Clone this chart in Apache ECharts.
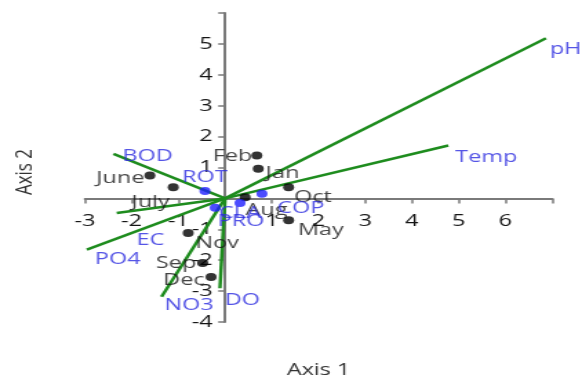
<!DOCTYPE html>
<html>
<head>
<meta charset="utf-8">
<script src="https://cdn.jsdelivr.net/npm/echarts@6/dist/echarts.min.js"></script>
<style>
html,body{margin:0;padding:0;background:#fff;overflow:hidden;width:582px;height:378px;}
#c{width:422px;height:378px;transform:scaleX(1.37915);transform-origin:0 0;}
</style>
</head>
<body>
<div id="c"></div>
<script>
// ---- data ----
const monthNames = ['Jan','Feb','May','June','July','Aug','Sep','Oct','Nov','Dec'];
const monthAxis1 = [0.71, 0.68, 1.36, -1.61, -1.11, 0.43, -0.48, 1.36, -0.79, -0.30];
const monthAxis2 = [0.96, 1.39, -0.71, 0.74, 0.36, 0.04, -2.09, 0.36, -1.12, -2.54];

const taxaNames = ['ROT','CLA','PRO','COP'];
const taxaAxis1 = [-0.43, 0.32, -0.21, 0.79];
const taxaAxis2 = [0.24, -0.15, -0.30, 0.15];

const envNames = ['pH','Temp','BOD','EC','PO4','NO3','DO'];
const envAxis1 = [6.87, 4.78, -2.39, -2.32, -2.96, -1.36, -0.11];
const envAxis2 = [5.18, 1.71, 1.44, -0.47, -1.66, -3.18, -2.91];

// ---- layout / style ----
const SX = 1.37915; // horizontal stretch of the picture
const labelPlace = { // [position, dx (screen px), dy]
  Jan:['right',-5,4], Feb:['left',8,1], Oct:['right',-7,10], Aug:['right',-12,13],
  May:['right',-3,10], June:['left',7,3], July:['left',9,15], Nov:['right',-5,10],
  Sep:['left',6,0], Dec:['left',6,3],
  ROT:['top',0,4], COP:['right',3,14], CLA:['bottom',0,-7], PRO:['right',-10,13],
  pH:['right',-3,11], Temp:['right',0,12], BOD:['right',2,2], EC:['right',13,27],
  PO4:['right',1,9], NO3:['right',-4,8], DO:['right',-2,12]
};

const FONT = '"Open Sans", "Noto Sans", sans-serif';
const GREEN = '#1e8c1e';
const BLUE_TXT = '#2b2be0';
const GRID = { left: 61.6, right: 21.75, top: 13, bottom: 56 };
const X_MIN = -3, X_MAX = 7, Y_MIN = -4, Y_MAX = 6;

function pointItems(names, xs, ys, color) {
  return names.map((n, i) => ({
    name: n,
    value: [xs[i], ys[i]],
    label: {
      show: true, formatter: n, position: labelPlace[n][0],
      offset: [labelPlace[n][1] / SX, labelPlace[n][2]],
      color: color, fontSize: 17, fontFamily: FONT
    }
  }));
}

const series = [];
envNames.forEach((n, i) => {
  series.push({
    type: 'line', name: n, data: [[0, 0], [envAxis1[i], envAxis2[i]]],
    showSymbol: false, symbol: 'none', silent: true, z: 2,
    lineStyle: { color: GREEN, width: 2.5 }
  });
});
series.push({
  type: 'scatter', name: 'envLabels', symbolSize: 0, z: 5,
  data: pointItems(envNames, envAxis1, envAxis2, BLUE_TXT)
});
series.push({
  type: 'scatter', name: 'months', symbolSize: 8, z: 4,
  itemStyle: { color: '#000' },
  data: pointItems(monthNames, monthAxis1, monthAxis2, '#151515')
});
series.push({
  type: 'scatter', name: 'taxa', symbolSize: 8, z: 4,
  itemStyle: { color: '#1f1fff' },
  data: pointItems(taxaNames, taxaAxis1, taxaAxis2, BLUE_TXT)
});

const W = 422, H = 378;
const gridW = W - GRID.left - GRID.right;
const gridH = H - GRID.top - GRID.bottom;
const xOffset = -gridH * (0 - Y_MIN) / (Y_MAX - Y_MIN);
const yOffset = -gridW * (0 - X_MIN) / (X_MAX - X_MIN);

const axisCommon = {
  type: 'value', interval: 1,
  axisLine: { show: true, onZero: false, lineStyle: { color: '#7a7a7a', width: 2 } },
  axisTick: { show: true, length: 5, lineStyle: { color: '#7a7a7a', width: 1.5 } },
  splitLine: { show: false }
};

const chart = echarts.init(document.getElementById('c'), null, { renderer: 'canvas', width: W, height: H });
chart.setOption({
  animation: false,
  backgroundColor: '#fff',
  grid: Object.assign({ containLabel: false }, GRID),
  xAxis: Object.assign({}, axisCommon, {
    min: X_MIN, max: X_MAX, position: 'bottom', offset: xOffset,
    axisLabel: {
      color: '#151515', fontSize: 17, fontFamily: FONT, margin: 14,
      formatter: v => (v === 0 || v === X_MAX) ? '' : String(v)
    }
  }),
  yAxis: Object.assign({}, axisCommon, {
    min: Y_MIN, max: Y_MAX, position: 'left', offset: yOffset,
    axisLabel: {
      color: '#151515', fontSize: 17, fontFamily: FONT, margin: 9,
      formatter: v => (v === 0 || v === Y_MAX) ? '' : String(v)
    }
  }),
  graphic: [
    { type: 'text', x: 231, y: 370, style: { text: 'Axis 1', fill: '#333', font: '17px ' + FONT, textAlign: 'center', textVerticalAlign: 'middle' } },
    { type: 'text', x: 18, y: 172, rotation: Math.PI / 2, style: { text: 'Axis 2', fill: '#333', font: '17px ' + FONT, textAlign: 'center', textVerticalAlign: 'middle' } }
  ],
  series: series
});
</script>
</body>
</html>
